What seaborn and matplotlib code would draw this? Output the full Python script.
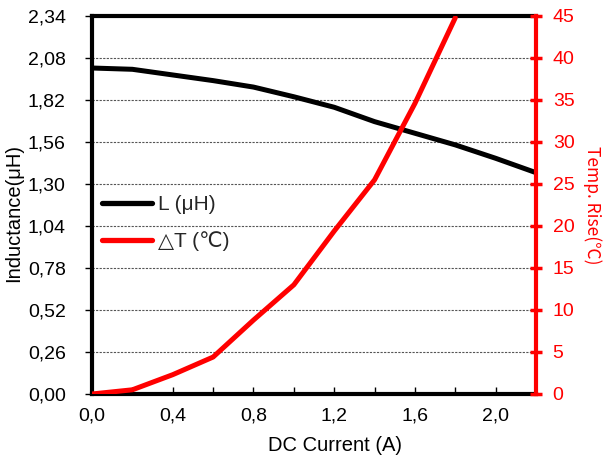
import matplotlib
matplotlib.use("Agg")
import matplotlib.pyplot as plt
import seaborn as sns
import pandas as pd
from matplotlib.ticker import MultipleLocator
from matplotlib.lines import Line2D

sns.set_theme(style="white")
plt.rcParams['font.family'] = ['Liberation Sans', 'DejaVu Sans']

current = [0.0, 0.2, 0.4, 0.6, 0.8, 1.0, 1.2, 1.4, 1.6, 1.8, 2.0, 2.2]
inductance = [2.018, 2.01, 1.975, 1.94, 1.90, 1.84, 1.775, 1.686, 1.614, 1.542, 1.459, 1.37]
temp_current = [0.0, 0.2, 0.4, 0.6, 0.8, 1.0, 1.2, 1.4, 1.6, 1.8]
temp_rise = [0.0, 0.5, 2.3, 4.4, 8.8, 13.0, 19.4, 25.5, 34.6, 44.8]

left_ticks = [0.00, 0.26, 0.52, 0.78, 1.04, 1.30, 1.56, 1.82, 2.08, 2.34]
left_labels = ["0,00", "0,26", "0,52", "0,78", "1,04", "1,30", "1,56", "1,82", "2,08", "2,34"]
x_ticks = [0.0, 0.4, 0.8, 1.2, 1.6, 2.0]
x_labels = ["0,0", "0,4", "0,8", "1,2", "1,6", "2,0"]
right_ticks = [0, 5, 10, 15, 20, 25, 30, 35, 40, 45]

df_l = pd.DataFrame({"I": current, "L": inductance})
df_t = pd.DataFrame({"I": temp_current, "T": temp_rise})

fig = plt.figure(figsize=(6.03, 4.65), dpi=100)
ax = fig.add_axes([0.1526, 0.1527, 0.889 - 0.1526, 0.9656 - 0.1527])
ax2 = ax.twinx()

fs = 14
sns.lineplot(data=df_l, x="I", y="L", ax=ax, color="black", linewidth=3.6, legend=False)
sns.lineplot(data=df_t, x="I", y="T", ax=ax2, color="#ff0000", linewidth=3.6, legend=False)

ax.set_xlim(0, 2.2)
ax.set_ylim(0, 2.34)
ax2.set_ylim(0, 45)

ax.set_yticks(left_ticks)
ax.set_yticklabels(left_labels, fontsize=fs, color="black")
ax.set_xticks(x_ticks)
ax.set_xticklabels(x_labels, fontsize=fs, color="black")
ax.xaxis.set_minor_locator(MultipleLocator(0.2))
ax.tick_params(axis="x", which="both", direction="in", length=5, width=1, color="black", bottom=True, pad=10)
ax.tick_params(axis="y", direction="out", length=5, width=1, color="black", left=True, pad=14)

ax2.set_yticks(right_ticks)
ax2.set_yticklabels([str(t) for t in right_ticks], fontsize=fs, color="#ff0000")
ax2.tick_params(axis="y", direction="inout", length=8, width=2.5, color="#ff0000", right=True, pad=8)

ax.yaxis.grid(True, color="#555555", linestyle=(0, (2, 1.2)), linewidth=0.8)
ax.xaxis.grid(False)
ax.set_axisbelow(True)

for s in ["left", "bottom", "top"]:
    ax.spines[s].set_color("black")
    ax.spines[s].set_linewidth(3)
for s in ["left", "bottom", "top"]:
    ax2.spines[s].set_visible(False)
ax.spines["right"].set_visible(False)
ax2.spines["right"].set_color("#ff0000")
ax2.spines["right"].set_linewidth(3)

ax.set_xlabel("DC Current (A)", fontsize=fs + 0.5, color="black")
ax.xaxis.set_label_coords(0.547, -0.135)
ax.xaxis.label.set_va("center")
ax.set_ylabel("Inductance(μH)", fontsize=fs + 0.5, color="black")
ax.yaxis.set_label_coords(-0.176, 0.48)
ax.yaxis.label.set_va("center")
ax2.set_ylabel("Temp. Rise(℃)", fontsize=12.5, color="#ff0000", rotation=270,
               family=['Noto Sans CJK SC', 'Liberation Sans'])
ax2.yaxis.set_label_coords(1.126, 0.5)
ax2.yaxis.label.set_va("center")

handles = [Line2D([0], [0], color="black", lw=3.8), Line2D([0], [0], color="#ff0000", lw=3.8)]
leg = ax.legend(handles, ["L (μH)", "△T (℃)"], loc="upper left", bbox_to_anchor=(-0.005, 0.56),
                frameon=False, handlelength=2.4, handletextpad=0.25,
                labelspacing=0.85, borderaxespad=0.2,
                prop={'family': ['Liberation Sans', 'DejaVu Sans', 'Noto Sans CJK SC'], 'size': 15})

fig.savefig("out.png", dpi=100, facecolor="white")
